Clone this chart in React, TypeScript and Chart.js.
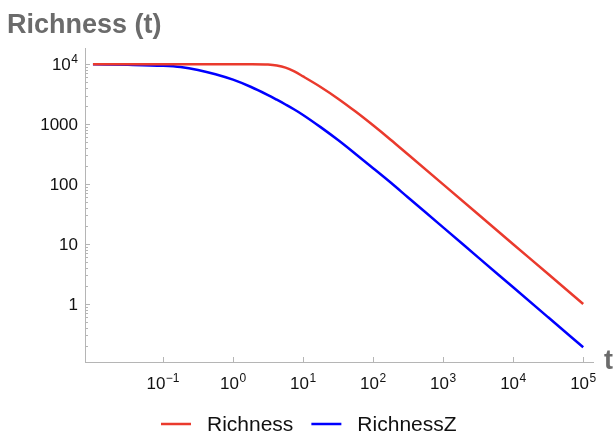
import React, { useEffect, useRef } from "react";
import { Chart, registerables } from "chart.js";

Chart.register(...registerables);

// ---- data ----
const timePoints = [0.01, 0.0316, 0.1, 0.178, 0.316, 0.562, 1, 1.78, 3.16, 4.22, 5.62, 7.5, 10, 17.8, 31.6, 56.2, 100, 178, 316, 1000, 3162, 10000, 31623, 100000];
const richness = [10000, 10000, 10000, 10000, 10000, 10000, 10000, 9990, 9840, 9480, 8750, 7550, 6240, 4170, 2660, 1620, 955, 550, 311, 98.9, 31.4, 9.95, 3.16, 1.0];
const richnessZ = [9950, 9770, 9390, 8935, 8000, 6800, 5513, 4200, 3051, 2554, 2125, 1753, 1423, 891, 542, 318, 184, 106, 59.7, 19.0, 6.0, 1.9, 0.601, 0.19];

const seriesNames = ["Richness", "RichnessZ"];
const seriesColors = ["#ea3a2d", "#0000ff"];

const xTickValues = [0.1, 1, 10, 100, 1000, 10000, 100000];
const xTickLabels: [string, string][] = [["10", "−1"], ["10", "0"], ["10", "1"], ["10", "2"], ["10", "3"], ["10", "4"], ["10", "5"]];
const yTickValues = [1, 10, 100, 1000, 10000];
const yTickLabels: [string, string][] = [["1", ""], ["10", ""], ["100", ""], ["1000", ""], ["10", "4"]];

const chartTitle = "Richness (t)";
const xAxisTitle = "t";

const X_MIN = 0.0077;
const X_MAX = 138000;
const Y_MIN = 0.108;
const Y_MAX = 18600;

const FONT = "'Liberation Sans', Arial, Helvetica, sans-serif";
const AXIS_COLOR = "#b5b5b5";
const TITLE_COLOR = "#6b6b6b";
const LABEL_COLOR = "#111";
const BASE_SIZE = 17;
const EXP_SIZE = 12;

function drawPower(ctx: CanvasRenderingContext2D, label: [string, string], x: number, baseline: number, align: "center" | "right") {
  ctx.font = `${BASE_SIZE}px ${FONT}`;
  const wb = ctx.measureText(label[0]).width;
  ctx.font = `${EXP_SIZE}px ${FONT}`;
  const we = label[1] ? ctx.measureText(label[1]).width + 0.5 : 0;
  const total = wb + we;
  const start = align === "center" ? x - total / 2 : x - total;
  ctx.textAlign = "left";
  ctx.textBaseline = "alphabetic";
  ctx.fillStyle = LABEL_COLOR;
  ctx.font = `${BASE_SIZE}px ${FONT}`;
  ctx.fillText(label[0], start, baseline);
  if (label[1]) {
    ctx.font = `${EXP_SIZE}px ${FONT}`;
    ctx.fillText(label[1], start + wb + 0.5, baseline - 7);
  }
}

const decorPlugin = {
  id: "decor",
  afterDraw(chart: any) {
    const { ctx, chartArea, scales } = chart;
    const x = scales.x;
    const y = scales.y;
    ctx.save();
    // inside ticks
    ctx.strokeStyle = AXIS_COLOR;
    ctx.lineWidth = 1;
    ctx.beginPath();
    for (const v of xTickValues) {
      const px = Math.round(x.getPixelForValue(v)) + 0.5;
      ctx.moveTo(px, chartArea.bottom);
      ctx.lineTo(px, chartArea.bottom - 5);
    }
    for (let d = -1; d <= 4; d++) {
      for (let m = 1; m <= 9; m++) {
        const v = m * Math.pow(10, d);
        if (v < Y_MIN || v > Y_MAX) continue;
        const py = Math.round(y.getPixelForValue(v)) + 0.5;
        const len = m === 1 ? 5 : 3;
        ctx.moveTo(chartArea.left, py);
        ctx.lineTo(chartArea.left + len, py);
      }
    }
    ctx.stroke();

    // tick labels
    xTickValues.forEach((v, i) => {
      drawPower(ctx, xTickLabels[i], x.getPixelForValue(v), chartArea.bottom + 27, "center");
    });
    yTickValues.forEach((v, i) => {
      drawPower(ctx, yTickLabels[i], chartArea.left - 7, y.getPixelForValue(v) + 6, "right");
    });

    // title
    ctx.fillStyle = TITLE_COLOR;
    ctx.font = `bold 27px ${FONT}`;
    ctx.textAlign = "left";
    ctx.textBaseline = "alphabetic";
    ctx.fillText(chartTitle, 7, 33);

    // x axis title
    ctx.font = `bold 27px ${FONT}`;
    ctx.textBaseline = "middle";
    ctx.fillText(xAxisTitle, 604, chartArea.bottom);

    // legend
    ctx.font = `21px ${FONT}`;
    ctx.textBaseline = "middle";
    const ly = 424;
    let lx = 161;
    for (let i = 0; i < seriesNames.length; i++) {
      ctx.strokeStyle = seriesColors[i];
      ctx.lineWidth = 2.5;
      ctx.beginPath();
      ctx.moveTo(lx, ly);
      ctx.lineTo(lx + 30, ly);
      ctx.stroke();
      ctx.fillStyle = LABEL_COLOR;
      ctx.fillText(seriesNames[i], lx + 46, ly + 1);
      const w = ctx.measureText(seriesNames[i]).width;
      lx = lx + 46 + w + 18;
    }
    ctx.restore();
  },
};

export default function App() {
  const canvasRef = useRef<HTMLCanvasElement | null>(null);

  useEffect(() => {
    if (!canvasRef.current) return;
    const chart = new Chart(canvasRef.current, {
      type: "line",
      data: {
        datasets: [
          {
            label: seriesNames[0],
            data: timePoints.map((t, i) => ({ x: t, y: richness[i] })),
            borderColor: seriesColors[0],
            borderWidth: 2.5,
            pointRadius: 0,
            cubicInterpolationMode: "monotone",
            fill: false,
          },
          {
            label: seriesNames[1],
            data: timePoints.map((t, i) => ({ x: t, y: richnessZ[i] })),
            borderColor: seriesColors[1],
            borderWidth: 2.5,
            pointRadius: 0,
            cubicInterpolationMode: "monotone",
            fill: false,
          },
        ],
      },
      options: {
        responsive: false,
        animation: false,
        layout: { padding: { top: 48, right: 21, left: 0, bottom: 0 } },
        plugins: {
          legend: { display: false },
          title: { display: false },
          tooltip: { enabled: false },
        },
        scales: {
          x: {
            type: "logarithmic",
            min: X_MIN,
            max: X_MAX,
            afterBuildTicks: (s: any) => {
              s.ticks = xTickValues.map((v) => ({ value: v }));
            },
            afterFit: (s: any) => {
              s.height = 74;
            },
            grid: { display: false },
            border: { display: true, color: AXIS_COLOR, width: 1 },
            ticks: { display: false },
          },
          y: {
            type: "logarithmic",
            min: Y_MIN,
            max: Y_MAX,
            afterBuildTicks: (s: any) => {
              s.ticks = yTickValues.map((v) => ({ value: v }));
            },
            afterFit: (s: any) => {
              s.width = 85;
            },
            grid: { display: false },
            border: { display: true, color: AXIS_COLOR, width: 1 },
            ticks: { display: false },
          },
        },
      },
      plugins: [decorPlugin],
    } as any);
    return () => chart.destroy();
  }, []);

  return (
    <div style={{ position: "absolute", left: 0, top: 0, width: 614, height: 436, background: "#fff" }}>
      <canvas ref={canvasRef} width={614} height={436} style={{ display: "block" }} />
    </div>
  );
}
